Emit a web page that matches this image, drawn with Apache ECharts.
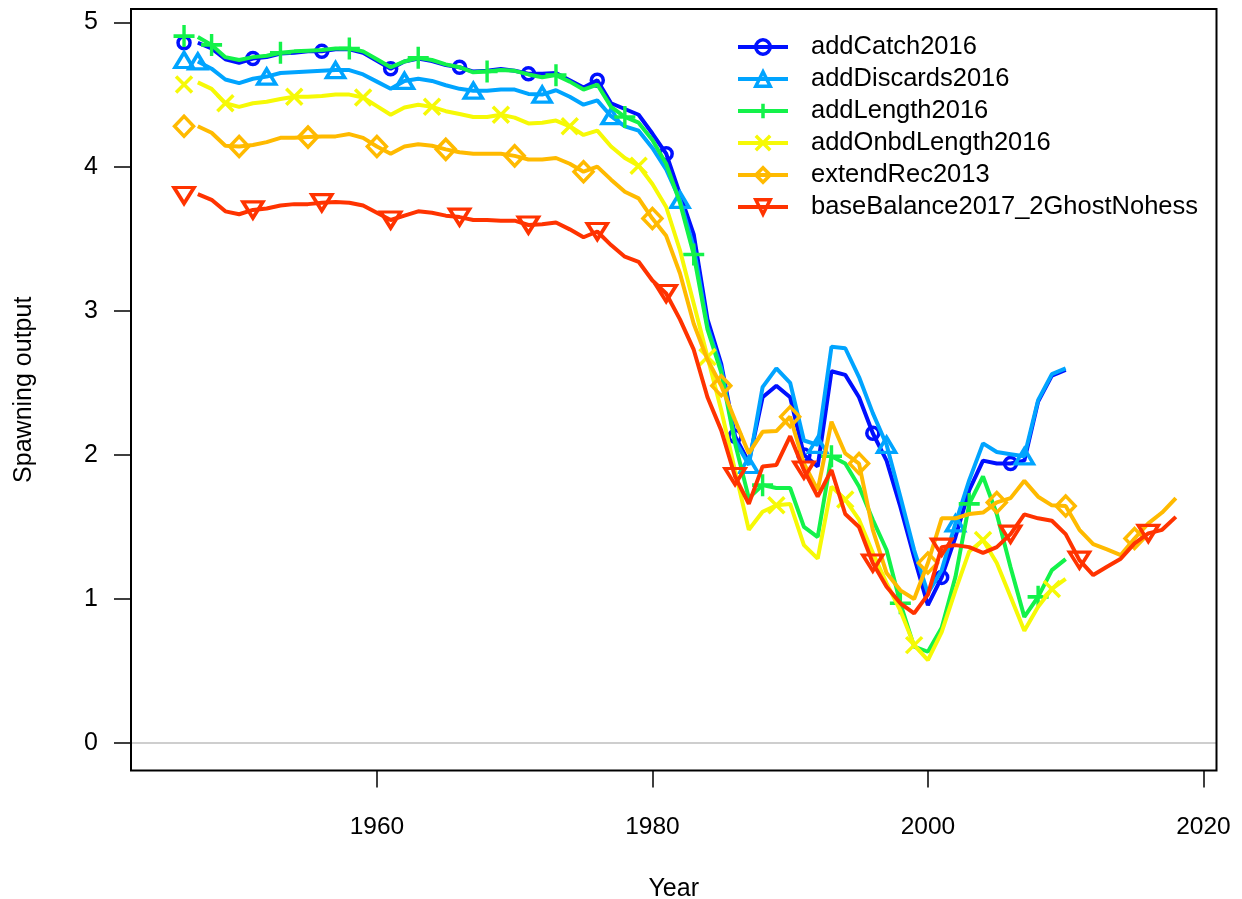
<!DOCTYPE html>
<html>
<head>
<meta charset="utf-8">
<title>Spawning output</title>
<script src="https://cdn.jsdelivr.net/npm/echarts@6/dist/echarts.min.js"></script>
<style>
  html, body { margin: 0; padding: 0; background: #ffffff; }
  #chart { width: 1242px; height: 899px; }
</style>
</head>
<body>
<div id="chart"></div>
<script>
// Model names, in drawing order
const modelNames = [
  'addCatch2016',
  'addDiscards2016',
  'addLength2016',
  'addOnbdLength2016',
  'extendRec2013',
  'baseBalance2017_2GhostNohess'
];

// Unfished (virgin) spawning output, drawn as a lone point at 1946
const virginYear = 1946;
const virginValues = [4.86, 4.74, 4.906, 4.57, 4.28, 3.80];

// Time series start year (all models)
const firstYear = 1947;

// Spawning output by year, 1947 onward
const addCatch2016 = [
  4.86, 4.82, 4.745, 4.72, 4.75, 4.76, 4.785, 4.79, 4.80, 4.80,
  4.814, 4.814, 4.79, 4.735, 4.68, 4.73, 4.75, 4.733, 4.705, 4.69,
  4.66, 4.665, 4.677, 4.665, 4.645, 4.645, 4.65, 4.60, 4.55, 4.60,
  4.44, 4.40, 4.36, 4.23, 4.09, 3.81, 3.53, 2.94, 2.63, 2.13,
  1.95, 2.40, 2.48, 2.40, 2.00, 1.92, 2.58, 2.555, 2.40, 2.15,
  1.96, 1.64, 1.29, 0.957, 1.15, 1.43, 1.755, 1.96, 1.94, 1.94,
  1.96, 2.37, 2.55, 2.59
];
const addDiscards2016 = [
  4.73, 4.68, 4.605, 4.58, 4.61, 4.625, 4.65, 4.655, 4.66, 4.665,
  4.67, 4.67, 4.64, 4.59, 4.54, 4.595, 4.61, 4.595, 4.565, 4.54,
  4.527, 4.527, 4.535, 4.535, 4.505, 4.50, 4.53, 4.485, 4.43, 4.46,
  4.35, 4.28, 4.25, 4.13, 3.98, 3.77, 3.44, 2.89, 2.60, 2.10,
  1.93, 2.47, 2.60, 2.50, 2.10, 2.07, 2.75, 2.74, 2.54, 2.29,
  2.07, 1.71, 1.34, 1.04, 1.20, 1.525, 1.825, 2.08, 2.02, 2.005,
  1.99, 2.38, 2.56, 2.60
];
const addLength2016 = [
  4.90, 4.845, 4.76, 4.74, 4.76, 4.77, 4.79, 4.80, 4.805, 4.81,
  4.82, 4.82, 4.80, 4.745, 4.69, 4.73, 4.755, 4.74, 4.71, 4.69,
  4.655, 4.66, 4.67, 4.665, 4.64, 4.62, 4.635, 4.59, 4.535, 4.57,
  4.415, 4.345, 4.305, 4.185, 4.02, 3.75, 3.39, 2.87, 2.57, 2.08,
  1.70, 1.79, 1.77, 1.77, 1.50, 1.43, 1.99, 1.94, 1.78, 1.55,
  1.34, 0.97, 0.67, 0.634, 0.80, 1.154, 1.66, 1.85, 1.59, 1.22,
  0.876, 1.015, 1.20, 1.277
];
const addOnbdLength2016 = [
  4.585, 4.54, 4.44, 4.415, 4.44, 4.45, 4.47, 4.485, 4.485, 4.49,
  4.50, 4.50, 4.48, 4.42, 4.36, 4.41, 4.43, 4.415, 4.385, 4.365,
  4.345, 4.345, 4.36, 4.34, 4.30, 4.305, 4.32, 4.28, 4.22, 4.25,
  4.14, 4.06, 4.006, 3.88, 3.72, 3.42, 3.05, 2.68, 2.31, 1.89,
  1.48, 1.605, 1.65, 1.66, 1.374, 1.28, 1.78, 1.69, 1.55, 1.32,
  1.11, 0.92, 0.68, 0.576, 0.77, 1.06, 1.33, 1.41, 1.25, 1.015,
  0.78, 0.946, 1.07, 1.14
];
const extendRec2013 = [
  4.28, 4.235, 4.145, 4.14, 4.15, 4.17, 4.20, 4.20, 4.205, 4.21,
  4.21, 4.226, 4.20, 4.14, 4.09, 4.14, 4.155, 4.145, 4.12, 4.10,
  4.09, 4.09, 4.09, 4.075, 4.05, 4.05, 4.06, 4.02, 3.965, 4.00,
  3.91, 3.826, 3.78, 3.64, 3.52, 3.26, 2.91, 2.66, 2.48, 2.24,
  2.01, 2.16, 2.165, 2.265, 1.94, 1.756, 2.23, 2.01, 1.94, 1.48,
  1.18, 1.06, 1.00, 1.25, 1.56, 1.56, 1.59, 1.60, 1.67, 1.70,
  1.82, 1.71, 1.65, 1.645, 1.48, 1.38, 1.344, 1.305, 1.42, 1.525,
  1.60, 1.70
];
const baseBalance2017_2GhostNohess = [
  3.81, 3.77, 3.69, 3.67, 3.70, 3.71, 3.73, 3.74, 3.74, 3.75,
  3.755, 3.75, 3.73, 3.68, 3.63, 3.66, 3.69, 3.68, 3.66, 3.65,
  3.63, 3.63, 3.625, 3.625, 3.595, 3.60, 3.613, 3.565, 3.51, 3.55,
  3.456, 3.375, 3.34, 3.21, 3.12, 2.94, 2.73, 2.40, 2.17, 1.85,
  1.66, 1.92, 1.93, 2.13, 1.895, 1.71, 1.895, 1.59, 1.50, 1.25,
  1.085, 0.97, 0.90, 1.03, 1.36, 1.374, 1.36, 1.32, 1.36, 1.45,
  1.587, 1.56, 1.543, 1.45, 1.27, 1.166, 1.224, 1.28, 1.386, 1.455,
  1.48, 1.57
];
const seriesValues = [
  addCatch2016, addDiscards2016, addLength2016,
  addOnbdLength2016, extendRec2013, baseBalance2017_2GhostNohess
];

// First marked year of each line (then every markerStep years)
const markerStart = [1951, 1947, 1948, 1949, 1950, 1951];
const markerStep = 5;

// Axis ticks
const xTicks = [1960, 1980, 2000, 2020];
const yTicks = [0, 1, 2, 3, 4, 5];

// Styling
const colors = ['#0010FF', '#00A4FF', '#13F24A', '#F6F906', '#FFBA00', '#FF3300'];
const symbols = [
  'circle',
  'path://M5,0L10,8.66L0,8.66Z',
  'path://M5,0L5,10M0,5L10,5',
  'path://M0,0L10,10M10,0L0,10',
  'path://M5,0L10,5L5,10L0,5Z',
  'path://M0,0L10,0L5,8.66Z'
];
const symbolSizes = [[12, 12], [18, 15], [21, 22], [16, 16], [19, 20], [20, 16]];
const FONT = '"Liberation Sans", Arial, Helvetica, sans-serif';

function buildData(k) {
  const vals = seriesValues[k];
  const marked = (yr) => yr === virginYear ||
    (yr >= markerStart[k] && (yr - markerStart[k]) % markerStep === 0);
  const data = [];
  data.push({ value: [virginYear, virginValues[k]] });
  // break between the unfished point and the time series
  data.push({ value: [(virginYear + firstYear) / 2, '-'], symbol: 'none' });
  vals.forEach((v, i) => {
    const yr = firstYear + i;
    const item = { value: [yr, v] };
    if (!marked(yr)) item.symbol = 'none';
    data.push(item);
  });
  return data;
}

const series = modelNames.map((name, k) => {
  const s = {
    name: name,
    type: 'line',
    data: buildData(k),
    connectNulls: false,
    showSymbol: true,
    showAllSymbol: true,
    symbol: symbols[k],
    symbolSize: symbolSizes[k],
    lineStyle: { color: colors[k], width: 4 },
    itemStyle: { color: 'rgba(255,255,255,0)', borderColor: colors[k], borderWidth: 3.5 },
    emphasis: { disabled: true },
    animation: false,
    z: 3 + k
  };
  if (k === 0) {
    s.markLine = {
      silent: true,
      symbol: ['none', 'none'],
      label: { show: false },
      lineStyle: { color: '#BEBEBE', type: 'solid', width: 1.5 },
      data: [{ yAxis: 0 }],
      animation: false,
      z: 1
    };
  }
  return s;
});

const chart = echarts.init(document.getElementById('chart'), null, { renderer: 'canvas' });
chart.setOption({
  backgroundColor: '#ffffff',
  animation: false,
  textStyle: { fontFamily: FONT },
  grid: {
    left: 131, right: 25.5, top: 9, bottom: 128.5,
    outerBoundsMode: 'none',
    containLabel: false,
    show: true, borderColor: '#000000', borderWidth: 2, backgroundColor: 'transparent',
    z: 10
  },
  legend: {
    orient: 'vertical',
    left: 736,
    top: 31,
    padding: 0,
    itemWidth: 50,
    itemHeight: 18,
    itemGap: 0,
    data: modelNames,
    lineStyle: { width: 4 },
    itemStyle: { borderWidth: 3.5 },
    textStyle: { fontFamily: FONT, fontSize: 25.5, color: '#000000', lineHeight: 32, padding: [0, 0, 0, 18] },
    selectedMode: false
  },
  xAxis: {
    type: 'value',
    min: 1942.15,
    max: 2020.95,
    name: 'Year',
    nameLocation: 'middle',
    nameGap: 106,
    nameTextStyle: { fontFamily: FONT, fontSize: 25, color: '#000000' },
    axisLine: { show: false, onZero: false },
    axisTick: { show: true, inside: false, length: 17, customValues: xTicks, lineStyle: { color: '#000000', width: 1.5 } },
    axisLabel: { show: true, customValues: xTicks, margin: 44, fontFamily: FONT, fontSize: 24.5, color: '#000000', formatter: (v) => String(v) },
    splitLine: { show: false }
  },
  yAxis: {
    type: 'value',
    min: -0.19,
    max: 5.094,
    name: 'Spawning output',
    nameLocation: 'middle',
    nameRotate: 90,
    nameGap: 94,
    nameTextStyle: { fontFamily: FONT, fontSize: 25, color: '#000000' },
    axisLine: { show: false },
    axisTick: { show: true, inside: false, length: 17, customValues: yTicks, lineStyle: { color: '#000000', width: 1.5 } },
    axisLabel: { show: true, customValues: yTicks, margin: 33, fontFamily: FONT, fontSize: 25, color: '#000000', formatter: (v) => String(v) },
    splitLine: { show: false }
  },
  series: series
});
</script>
</body>
</html>
